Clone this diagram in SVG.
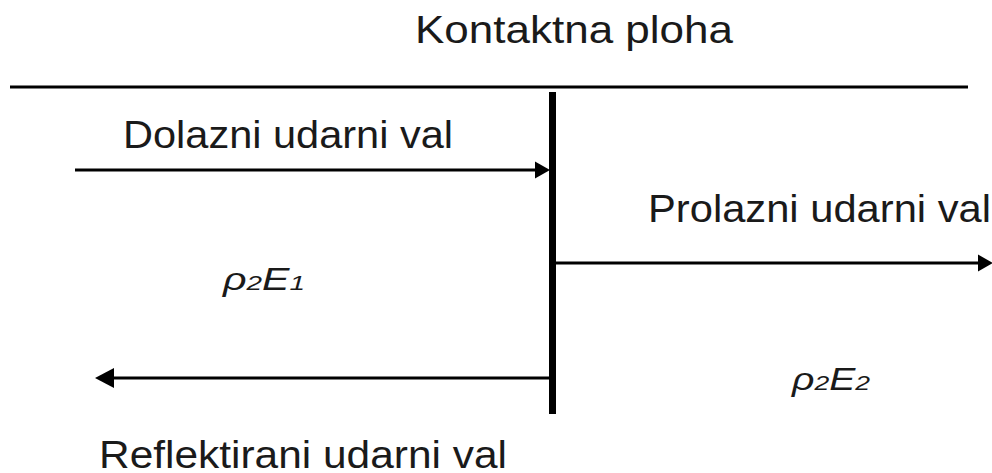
<svg xmlns="http://www.w3.org/2000/svg" width="992" height="473" viewBox="0 0 992 473">
<style>
.lbl{font-family:"Liberation Sans",Arial,sans-serif;font-size:38px;fill:#1a1a1a}
.sym{font-family:"Liberation Sans",Arial,sans-serif;font-size:31px;font-style:italic;fill:#1a1a1a}
.sub{font-size:21px}
.ln{stroke:#000;stroke-width:3;fill:none}
</style>
<defs>
<marker id="ahA" markerUnits="userSpaceOnUse" markerWidth="16" markerHeight="18" viewBox="0 -9 16 18" refX="0" refY="0" orient="auto">
<path d="M0,-8.5 L15,0 L0,8.5 z" fill="#000"/>
</marker>
<marker id="ahB" markerUnits="userSpaceOnUse" markerWidth="21" markerHeight="22" viewBox="0 -11 21 22" refX="0" refY="0" orient="auto">
<path d="M0,-10 L19,0 L0,10 z" fill="#000"/>
</marker>
</defs>
<g id="surface">
<line class="ln" x1="10" y1="87" x2="968" y2="87" stroke-width="3.5"/>
<text class="lbl" x="415" y="43" textLength="318" lengthAdjust="spacingAndGlyphs">Kontaktna ploha</text>
</g>
<g id="interface">
<line x1="552.5" y1="92" x2="552.5" y2="414" stroke="#000" stroke-width="7"/>
</g>
<g id="connectors">
<line class="ln" x1="75" y1="170" x2="535" y2="170" marker-end="url(#ahA)"/>
<line class="ln" x1="556" y1="263" x2="978" y2="263" marker-end="url(#ahA)"/>
<line class="ln" x1="552" y1="378" x2="114" y2="378" marker-end="url(#ahB)"/>
</g>
<g id="incident">
<text class="lbl" x="123" y="148" textLength="330" lengthAdjust="spacingAndGlyphs">Dolazni udarni val</text>
</g>
<g id="transmitted">
<text class="lbl" x="648" y="222" textLength="343" lengthAdjust="spacingAndGlyphs">Prolazni udarni val</text>
</g>
<g id="reflected">
<text class="lbl" x="99" y="468" textLength="408" lengthAdjust="spacingAndGlyphs">Reflektirani udarni val</text>
</g>
<g id="medium1">
<text class="sym" x="223" y="290" textLength="82" lengthAdjust="spacingAndGlyphs">ρ<tspan class="sub">2</tspan>E<tspan class="sub">1</tspan></text>
</g>
<g id="medium2">
<text class="sym" x="792" y="390" textLength="78" lengthAdjust="spacingAndGlyphs">ρ<tspan class="sub">2</tspan>E<tspan class="sub">2</tspan></text>
</g>
</svg>
